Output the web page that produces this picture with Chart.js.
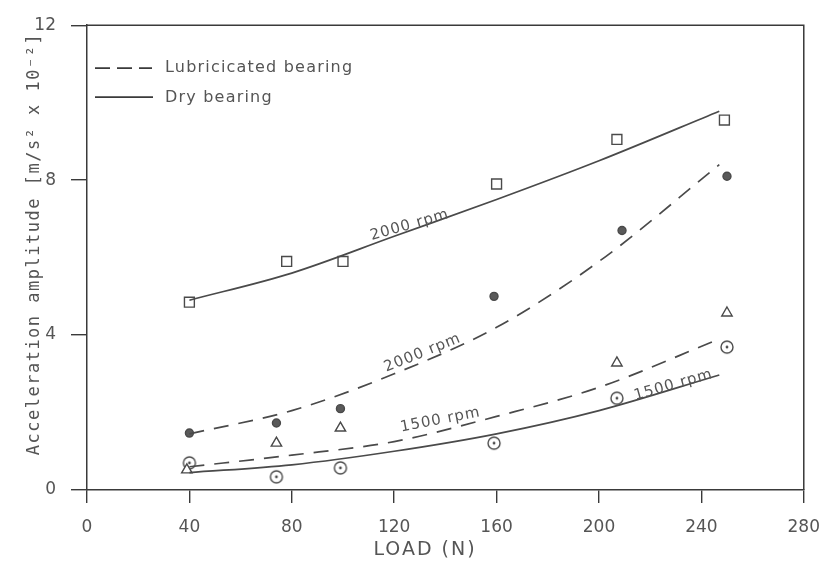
<!DOCTYPE html>
<html>
<head>
<meta charset="utf-8">
<script src="https://cdn.jsdelivr.net/npm/chart.js@4.4.1/dist/chart.umd.min.js"></script>
<style>
  html, body { margin: 0; padding: 0; background: #fff; }
  #load-chart { display: block; }
</style>
</head>
<body>
<canvas id="load-chart" width="834" height="562"></canvas>
<script>
// measured points : load (N) / acceleration amplitude (m/s2 x 10^-2)
let loadDry2000 = [40, 78, 100, 160, 207, 249];
let accDry2000  = [4.85, 5.9, 5.9, 7.9, 9.05, 9.55];
let loadLub2000 = [40, 74, 99, 159, 209, 250];
let accLub2000  = [1.47, 1.73, 2.1, 5.0, 6.7, 8.1];
let loadLub1500 = [39, 74, 99, 207, 250];
let accLub1500  = [0.52, 1.21, 1.6, 3.28, 4.57];
let loadDry1500 = [40, 74, 99, 159, 207, 250];
let accDry1500  = [0.7, 0.34, 0.57, 1.21, 2.37, 3.69];

// fitted curves
let curveLoad  = [40, 80, 120, 160, 200, 247];
let fitDry2000 = [4.9, 5.6, 6.55, 7.5, 8.5, 9.78];
let fitLub2000 = [1.45, 2.05, 3.0, 4.2, 5.9, 8.4];
let fitLub1500 = [0.6, 0.9, 1.25, 1.9, 2.65, 3.9];
let fitDry1500 = [0.45, 0.65, 1.0, 1.45, 2.05, 2.97];

let xTicks = [0, 40, 80, 120, 160, 200, 240, 280];
let yTicks = [0, 4, 8, 12];

let rpmNames   = ['2000 rpm', '2000 rpm', '1500 rpm', '1500 rpm'];
let legendText = ['Lubricicated bearing', 'Dry bearing'];
let xTitle = 'LOAD (N)';
let yTitle = 'Acceleration amplitude [m/s\u00b2 x 10\u207b\u00b2]';

let ink = '#4a4a4a';
let axisInk = '#3a3a3a';
let textInk = '#555';

function toPoints(xs, ys) {
  return xs.map(function (x, i) { return { x: x, y: ys[i] }; });
}

// open circle with a dot in the middle
function dotCircle() {
  let c = document.createElement('canvas');
  c.width = 16; c.height = 16;
  let g = c.getContext('2d');
  g.strokeStyle = ink; g.lineWidth = 1.4;
  g.beginPath(); g.arc(8, 8, 6, 0, Math.PI * 2); g.stroke();
  g.fillStyle = ink;
  g.beginPath(); g.arc(8, 8, 1.4, 0, Math.PI * 2); g.fill();
  return c;
}

function curve(values, dashed) {
  return {
    data: toPoints(curveLoad, values),
    showLine: true,
    borderColor: ink,
    borderWidth: 1.7,
    borderDash: dashed ? [15, 10] : [],
    pointRadius: 0,
    cubicInterpolationMode: 'monotone',
    fill: false
  };
}

function marks(xs, ys, style, radius, filled) {
  return {
    data: toPoints(xs, ys),
    showLine: false,
    pointStyle: style,
    pointRadius: radius,
    pointBorderWidth: 1.4,
    pointBorderColor: ink,
    pointBackgroundColor: filled ? '#5a5a5a' : '#fff'
  };
}

// rpm labels sit on the curves, in data units
let rpmLabels = [
  { text: rpmNames[0], x: 126, y: 6.85, angle: -16 },
  { text: rpmNames[1], x: 131, y: 3.55, angle: -22 },
  { text: rpmNames[2], x: 138, y: 1.82, angle: -11 },
  { text: rpmNames[3], x: 229, y: 2.72, angle: -16 }
];

let paperPlugin = {
  id: 'paper',
  afterDraw: function (chart) {
    let ctx = chart.ctx;
    let a = chart.chartArea;
    let xs = chart.scales.x, ys = chart.scales.y;
    ctx.save();

    // top + right frame
    ctx.strokeStyle = axisInk;
    ctx.lineWidth = 1.5;
    ctx.beginPath();
    ctx.moveTo(a.left, a.top);
    ctx.lineTo(a.right, a.top);
    ctx.lineTo(a.right, a.bottom);
    ctx.stroke();

    // legend, top left inside the box
    ctx.lineWidth = 1.7;
    ctx.setLineDash([15, 7]);
    ctx.beginPath(); ctx.moveTo(a.left + 8, a.top + 43); ctx.lineTo(a.left + 65, a.top + 43); ctx.stroke();
    ctx.setLineDash([]);
    ctx.beginPath(); ctx.moveTo(a.left + 8, a.top + 72); ctx.lineTo(a.left + 66, a.top + 72); ctx.stroke();
    ctx.fillStyle = textInk;
    ctx.font = '16px "DejaVu Sans"';
    ctx.letterSpacing = '1.2px';
    ctx.textAlign = 'left';
    ctx.textBaseline = 'middle';
    ctx.fillText(legendText[0], a.left + 78, a.top + 43);
    ctx.fillText(legendText[1], a.left + 78, a.top + 73);

    // rpm labels
    ctx.font = '15px "DejaVu Sans"';
    ctx.letterSpacing = '1px';
    ctx.textAlign = 'center';
    ctx.textBaseline = 'bottom';
    rpmLabels.forEach(function (l) {
      ctx.save();
      ctx.translate(xs.getPixelForValue(l.x), ys.getPixelForValue(l.y));
      ctx.rotate(l.angle * Math.PI / 180);
      ctx.fillText(l.text, 0, 8);
      ctx.restore();
    });

    // axis titles
    ctx.font = '19px "DejaVu Sans"';
    ctx.letterSpacing = '2px';
    ctx.textBaseline = 'middle';
    ctx.fillText(xTitle, 425, 550);

    ctx.font = '17px "DejaVu Sans Mono"';
    ctx.letterSpacing = '1.5px';
    ctx.translate(35, 244);
    ctx.rotate(-Math.PI / 2);
    ctx.fillText(yTitle, 0, 0);

    ctx.restore();
  }
};

let axisBase = {
  type: 'linear',
  border: { display: true, color: axisInk, width: 1.5 },
  grid: { drawOnChartArea: false, drawTicks: true, color: axisInk, lineWidth: 1.4 }
};

let myChart = new Chart(document.getElementById('load-chart').getContext('2d'), {
  type: 'scatter',
  data: {
    datasets: [
      curve(fitDry2000, false),
      curve(fitLub2000, true),
      curve(fitLub1500, true),
      curve(fitDry1500, false),
      marks(loadDry2000, accDry2000, 'rect', 7, false),
      marks(loadLub2000, accLub2000, 'circle', 4, true),
      marks(loadLub1500, accLub1500, 'triangle', 6, false),
      marks(loadDry1500, accDry1500, dotCircle(), 8, false)
    ]
  },
  options: {
    responsive: false,
    animation: false,
    layout: { padding: { top: 25, right: 19, left: 0, bottom: 0 } },
    plugins: { legend: { display: false }, tooltip: { enabled: false } },
    scales: {
      x: Object.assign({}, axisBase, {
        min: xTicks[0],
        max: xTicks[xTicks.length - 1],
        afterBuildTicks: function (s) { s.ticks = xTicks.map(function (v) { return { value: v }; }); },
        grid: Object.assign({}, axisBase.grid, { tickLength: 13 }),
        ticks: { color: textInk, font: { family: 'DejaVu Sans', size: 17 }, padding: 14, maxRotation: 0 },
        afterFit: function (s) { s.height = 72; }
      }),
      y: Object.assign({}, axisBase, {
        min: yTicks[0],
        max: yTicks[yTicks.length - 1],
        afterBuildTicks: function (s) { s.ticks = yTicks.map(function (v) { return { value: v }; }); },
        grid: Object.assign({}, axisBase.grid, { tickLength: 16 }),
        ticks: { color: textInk, font: { family: 'DejaVu Sans', size: 17 }, padding: 15 },
        afterFit: function (s) { s.width = 87; }
      })
    }
  },
  plugins: [paperPlugin]
});
</script>
</body>
</html>
